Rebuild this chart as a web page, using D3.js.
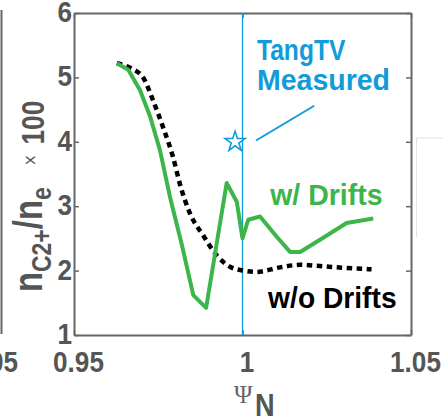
<!DOCTYPE html>
<html>
<head>
<meta charset="utf-8">
<script src="https://cdn.jsdelivr.net/npm/d3@7"></script>
<style>
  body { margin: 0; background: #fff; }
  svg { display: block; }
</style>
</head>
<body>
<div id="chart"></div>
<script>
// values
var psiDrift = [0.9627, 0.9661, 0.9696, 0.9726, 0.9755, 0.9785, 0.9820, 0.9854, 0.9892,
                0.9953, 0.9983, 1.0000, 1.0017, 1.0052, 1.0101, 1.0141, 1.0171, 1.0230, 1.0309, 1.0388];
var nDrift   = [5.22, 5.12, 4.80, 4.39, 3.87, 3.14, 2.40, 1.62, 1.42,
                3.36, 3.07, 2.50, 2.79, 2.84, 2.53, 2.29, 2.29, 2.48, 2.74, 2.81];

var psiNoDrift = [0.9627, 0.9666, 0.9706, 0.9734, 0.9764, 0.9794, 0.9815, 0.9844, 0.9883,
                  0.9923, 0.9963, 1.0002, 1.0042, 1.0111, 1.0171, 1.0230, 1.0309, 1.0383];
var nNoDrift   = [5.22, 5.15, 4.99, 4.65, 4.23, 3.76, 3.33, 2.89, 2.55,
                  2.24, 2.06, 2.00, 1.98, 2.05, 2.09, 2.07, 2.04, 2.02];

var measuredPsi = [0.9978];
var measuredN = [4.0];
var separatrix = 1.0;

var xTicks = [0.95, 1, 1.05];
var xTickLabels = ["0.95", "1", "1.05"];
var yTicks = [1, 2, 3, 4, 5, 6];
var yTickLabels = ["1", "2", "3", "4", "5", "6"];

var width = 443, height = 417;
var blue = "#129bda", green = "#3cb54a", gray = "#555555";
// no condensed helvetica here, so squeeze Liberation Sans sideways
var font = "'Liberation Sans', Arial, sans-serif";

var svg = d3.select("#chart").append("svg")
    .attr("width", width)
    .attr("height", height);

var x = d3.scaleLinear().domain([0.95, 1.05]).range([74, 411]);
var y = d3.scaleLinear().domain([1, 6]).range([335, 13]);

// draws a horizontally squeezed bold text at px,py
function narrowText(parent, txt, px, py, anchor, size, squeeze, color) {
    return parent.append("text")
        .attr("transform", "translate(" + px + "," + py + ") scale(" + squeeze + ",1)")
        .attr("text-anchor", anchor)
        .style("font-family", font).style("font-size", size + "px").style("font-weight", "bold")
        .style("fill", color)
        .text(txt);
}

// bits of the neighbouring panels that got cropped in
svg.append("line")
    .attr("x1", 1.5).attr("x2", 1.5).attr("y1", 10).attr("y2", 334)
    .style("stroke", "#666").style("stroke-width", 2);
narrowText(svg, "1.05", 18, 372, "end", 30, 0.87, gray);
svg.append("path")
    .attr("d", "M443,138H416.5V237")
    .style("fill", "none").style("stroke", "#e2e2e2").style("stroke-width", 1);

// axes, matlab style box with inward ticks
function styleAxis(g) {
    g.select(".domain").style("stroke", "#666").style("stroke-width", 2);
    g.selectAll(".tick line").style("stroke", "#666").style("stroke-width", 1.5);
}

svg.append("g")
    .attr("transform", "translate(0," + y(1) + ")")
    .call(d3.axisBottom(x).tickValues(xTicks).tickSize(-5).tickSizeOuter(0).tickFormat(""))
    .call(styleAxis)
    .selectAll(".tick")
    .each(function(d, i) {
        narrowText(d3.select(this), xTickLabels[i], 4, 37, "middle", 30, 0.87, gray);
    });

svg.append("g")
    .attr("transform", "translate(0," + y(6) + ")")
    .call(d3.axisTop(x).tickValues(xTicks).tickSize(-5).tickSizeOuter(0).tickFormat(""))
    .call(styleAxis);

svg.append("g")
    .attr("transform", "translate(" + x(0.95) + ",0)")
    .call(d3.axisLeft(y).tickValues(yTicks).tickSize(-5).tickSizeOuter(0).tickFormat(""))
    .call(styleAxis)
    .selectAll(".tick")
    .each(function(d, i) {
        narrowText(d3.select(this), yTickLabels[i], -2, 8.5, "end", 30, 0.87, gray);
    });

svg.append("g")
    .attr("transform", "translate(" + x(1.05) + ",0)")
    .call(d3.axisRight(y).tickValues(yTicks).tickSize(-5).tickSizeOuter(0).tickFormat(""))
    .call(styleAxis);

// separatrix
svg.append("line")
    .attr("x1", x(separatrix)).attr("x2", x(separatrix))
    .attr("y1", y(6)).attr("y2", y(1))
    .style("stroke", blue).style("stroke-width", 1.3);

// w/o drifts
var noDrift = psiNoDrift.map(function(p, i) { return [p, nNoDrift[i]]; });
svg.append("path")
    .datum(noDrift)
    .attr("d", d3.line()
        .x(function(d) { return x(d[0]); })
        .y(function(d) { return y(d[1]); })
        .curve(d3.curveMonotoneX))
    .style("fill", "none")
    .style("stroke", "#000")
    .style("stroke-width", 4.5)
    .style("stroke-dasharray", "5.5,4.5");

// w/ drifts
var drift = psiDrift.map(function(p, i) { return [p, nDrift[i]]; });
svg.append("path")
    .datum(drift)
    .attr("d", d3.line()
        .x(function(d) { return x(d[0]); })
        .y(function(d) { return y(d[1]); }))
    .style("fill", "none")
    .style("stroke", green)
    .style("stroke-width", 4)
    .style("stroke-linejoin", "round");

// measured point + annotation
svg.selectAll(".star")
    .data(measuredPsi)
    .enter().append("path")
    .attr("class", "star")
    .attr("transform", function(d, i) { return "translate(" + x(d) + "," + y(measuredN[i]) + ")"; })
    .attr("d", d3.symbol().type(d3.symbolStar).size(124))
    .style("fill", "#fff")
    .style("stroke", blue)
    .style("stroke-width", 1.6);

svg.append("line")
    .attr("x1", x(1.0040)).attr("y1", y(4.02))
    .attr("x2", x(1.0213)).attr("y2", y(4.56))
    .style("stroke", blue).style("stroke-width", 2);

narrowText(svg, "TangTV", x(1.0043), y(5.27), "start", 30, 0.82, blue);
narrowText(svg, "Measured", x(1.0043), y(4.80), "start", 30, 0.95, blue);
narrowText(svg, "w/ Drifts", x(1.0082), y(3.02), "start", 30, 0.95, green);
narrowText(svg, "w/o Drifts", x(1.0076), y(1.42), "start", 30, 0.94, "#000");

// y label: n_{C2+}/n_e x 100, reads bottom to top
var yl = svg.append("text")
    .attr("transform", "translate(42,292) rotate(-90) scale(0.82,1)")
    .attr("text-anchor", "start")
    .style("font-family", font).style("font-weight", "bold")
    .style("fill", gray);
yl.append("tspan").style("font-size", "40px").text("n");
yl.append("tspan").attr("dy", 9).style("font-size", "28px").text("C2+");
yl.append("tspan").attr("dy", -9).style("font-size", "40px").text("/n");
yl.append("tspan").attr("dy", 9).style("font-size", "28px").text("e");
yl.append("tspan").attr("dy", -15).attr("dx", 26).style("font-size", "17px").style("font-weight", "normal")
    .style("font-family", "'DejaVu Sans', sans-serif").text("\u00d7");
yl.append("tspan").attr("dy", 8).attr("dx", 12).style("font-size", "32px").text("100");

// x label: Psi_N
svg.append("text")
    .attr("x", 234).attr("y", 403)
    .style("font-family", "'Liberation Serif', 'DejaVu Serif', serif").style("font-size", "25px")
    .style("fill", "#666")
    .text("\u03a8");
narrowText(svg, "N", 255, 416, "start", 32, 0.85, gray);
</script>
</body>
</html>
